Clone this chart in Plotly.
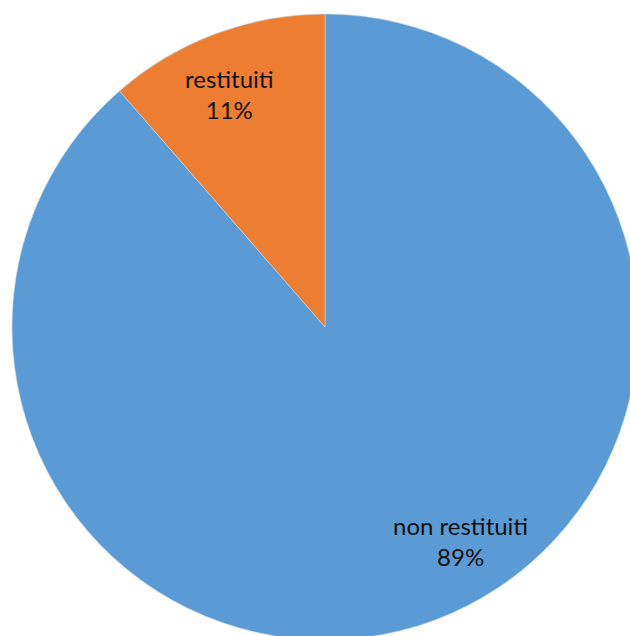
import plotly.graph_objects as go

labels = ["non restituiti", "restituiti"]
values = [88.6, 11.4]
pct_text = ["89%", "11%"]
colors = ["#5B9BD5", "#ED7D31"]

W, H = 650, 660
cx, cy, r = 325, 327, 313

# label centres (px from top-left)
label_pos = [(460, 541), (229, 94)]

fig = go.Figure(go.Pie(
    labels=labels,
    values=values,
    sort=False,
    direction="clockwise",
    rotation=0,
    marker=dict(colors=colors, line=dict(color="#c8d8ea", width=0.6)),
    textinfo="none",
    showlegend=False,
    hoverinfo="skip",
    domain=dict(x=[(cx - r) / W, (cx + r) / W],
                y=[(H - cy - r) / H, (H - cy + r) / H]),
))
for lab, pct, (px, py) in zip(labels, pct_text, label_pos):
    fig.add_annotation(
        x=px / W, y=1 - py / H, xref="paper", yref="paper",
        text=f"{lab}<br>{pct}", showarrow=False,
        xanchor="center", yanchor="middle",
        font=dict(family="Lato", size=24, color="#111111"),
    )
fig.update_layout(
    width=W, height=H,
    margin=dict(l=0, r=0, t=0, b=0),
    paper_bgcolor="white",
    plot_bgcolor="white",
)
fig.write_html("out.html", config={"displayModeBar": False}, post_script=(
    "document.body.style.margin='0';"
    "document.body.style.overflow='hidden';"
    "document.documentElement.style.overflow='hidden';"))
